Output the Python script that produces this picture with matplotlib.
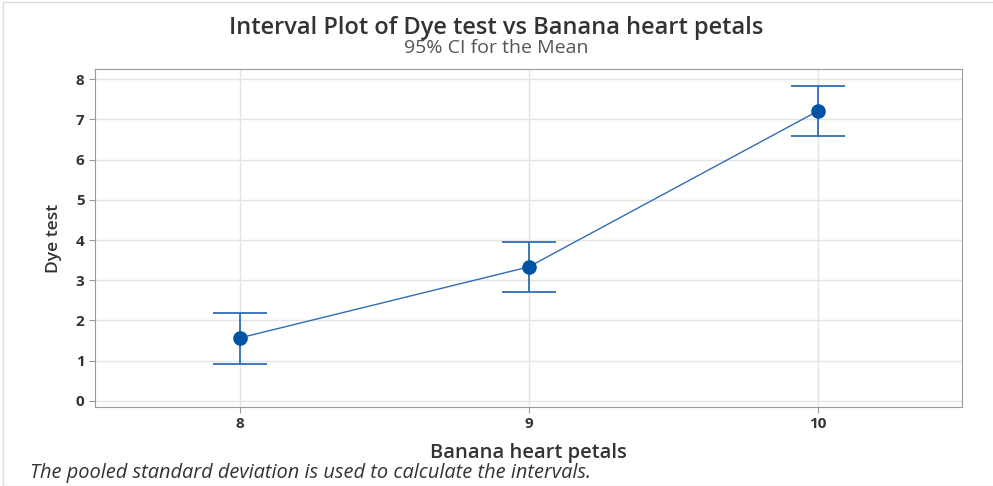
import matplotlib.pyplot as plt
from matplotlib.patches import Rectangle

plt.rcParams['font.family'] = ['Open Sans', 'DejaVu Sans']

# Interval plot data
petals = [8, 9, 10]
means = [1.565, 3.33, 7.20]
upper = [2.19, 3.95, 7.83]
lower = [0.92, 2.71, 6.58]

line_color = '#2f6db5'
dot_color = '#0053a5'

fig = plt.figure(figsize=(9.93, 4.86), dpi=100)
ax = fig.add_axes([95 / 993, 1 - 407 / 486, 867 / 993, 338 / 486])

# outer light frame
fig.patches.append(Rectangle((3 / 993, 0), 1.2, 1 - 2 / 486, transform=fig.transFigure,
                             fill=False, edgecolor='#dddddd', linewidth=1))

yerr = [[m - l for m, l in zip(means, lower)], [u - m for u, m in zip(upper, means)]]
ax.errorbar(petals, means, yerr=yerr, fmt='none', ecolor=line_color, elinewidth=1.3,
            capsize=19.5, capthick=1.3, zorder=3)
ax.plot(petals, means, color=line_color, linewidth=1.0, zorder=3)
ax.plot(petals, means, 'o', color=dot_color, markersize=9.5, zorder=4)

ax.set_xlim(7.5, 10.5)
ax.set_ylim(-0.15, 8.25)
ax.set_xticks(petals)
ax.set_yticks(range(0, 9))
ax.grid(True, color='#e4e4e4', linewidth=1)
ax.set_axisbelow(True)
for s in ax.spines.values():
    s.set_color('#9a9a9a')
ax.tick_params(axis='y', colors='#9a9a9a', labelcolor='#333333', labelsize=11, length=4)
ax.tick_params(axis='x', colors='#9a9a9a', labelcolor='#333333', labelsize=11, length=4)
for lab in ax.get_yticklabels() + ax.get_xticklabels():
    lab.set_fontweight('bold')

ax.set_xlabel('Banana heart petals', fontsize=14.5, fontweight='semibold',
              color='#333333', labelpad=8)
ax.set_ylabel('Dye test', fontsize=12.5, fontweight='semibold', color='#333333', labelpad=10)

fig.text(0.5, 1 - 28 / 486, 'Interval Plot of Dye test vs Banana heart petals',
         ha='center', va='center', fontsize=17, fontweight='semibold', color='#333333')
fig.text(0.5, 1 - 48 / 486, '95% CI for the Mean', ha='center', va='center',
         fontsize=14, color='#555555')
fig.text(30 / 993, 1 - 473 / 486,
         'The pooled standard deviation is used to calculate the intervals.',
         ha='left', va='center', fontsize=14.4, style='italic', color='#333333')

fig.savefig('out.png', dpi=100)
